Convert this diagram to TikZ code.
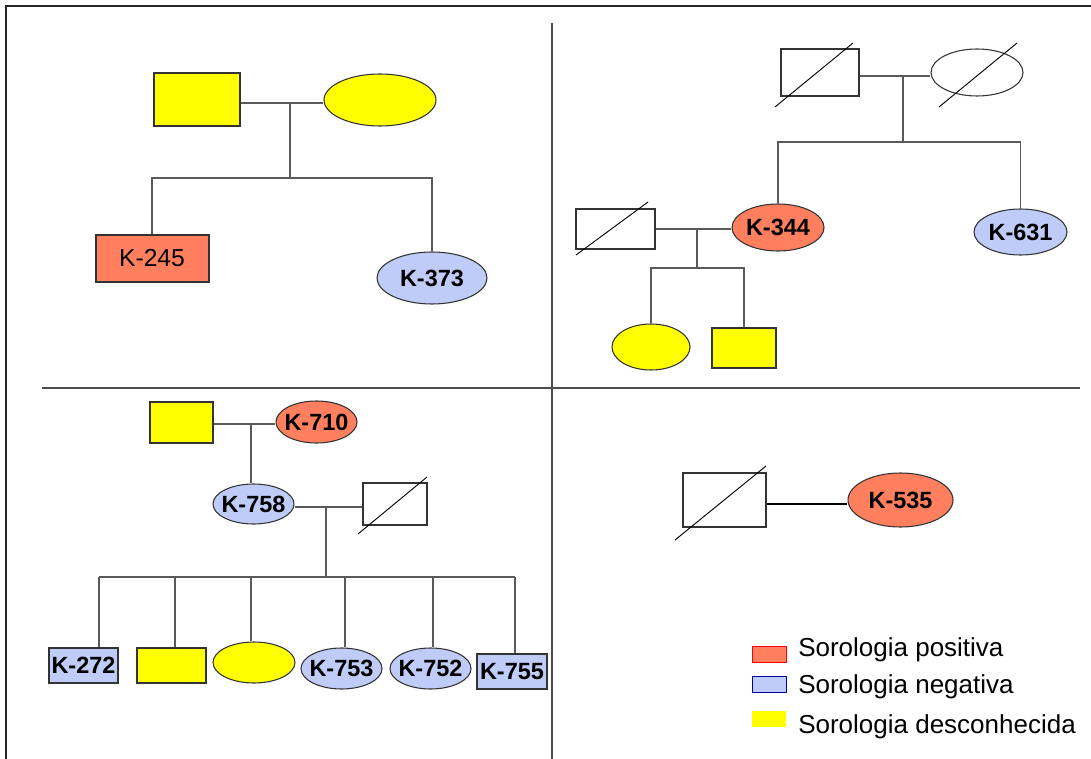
\documentclass[tikz,border=0pt]{standalone}
\usepackage{fontspec}
\setmainfont{Liberation Sans}
\usepackage{xcolor}
\usetikzlibrary{shapes.geometric}
\definecolor{seropos}{HTML}{FF7F5F}
\definecolor{seroneg}{HTML}{C0CCF8}
\definecolor{serounk}{HTML}{FFFF00}
\definecolor{linkgray}{HTML}{5A5A5A}

\begin{document}
\begin{tikzpicture}[
  x=0.75pt, y=-0.75pt,
  sz/.style 2 args={minimum width=#1*0.75pt, minimum height=#2*0.75pt},
  male/.style={
    rectangle,
    draw=black!80,
    line width=0.8pt,
    inner sep=0pt,
    font=\fontsize{17.6}{20}\selectfont\bfseries
  },
  female/.style={
    ellipse,
    draw=black!80,
    line width=0.8pt,
    inner sep=0pt,
    font=\fontsize{17.6}{20}\selectfont\bfseries
  },
  serpos/.style={fill=seropos},
  serneg/.style={fill=seroneg},
  serunk/.style={fill=serounk},
  dead/.style={fill=white},
  link/.style={draw=linkgray, line width=1pt},
  slash/.style={draw=black, line width=0.7pt},
  frame/.style={draw=black!85, line width=1.6pt},
  divider/.style={draw=black!70, line width=1pt},
  legtext/.style={anchor=base west, inner sep=0pt, font=\fontsize{19.5}{22}\selectfont}
]
\useasboundingbox (0,0) rectangle (1091,759);

% frame and panels
\draw[frame] (6,759) -- (6,6) -- (1091,6);
\draw[divider] (552,23) -- (552,759);
\draw[divider] (42,388) -- (1080,388);

% panel 1
\node[male, serunk, sz={86}{53}] (f1) at (197,99.5) {};
\node[female, serunk, sz={112}{52}] (m1) at (380,100) {};
\node[male, serpos, sz={113}{46}, line width=1.5pt, font=\fontsize{18.5}{22}\selectfont] (k245) at (152,258.5) {K-245};
\node[female, serneg, sz={110}{52}] (k373) at (432,278) {\makebox[0pt]{K-373}};
\coordinate (j1) at (290,103);
\coordinate (s1) at (290,178);
\draw[link] (f1.east |- j1) -- (m1.west |- j1);
\draw[link] (j1) -- (s1);
\draw[link] (k245.north) |- (s1) -| (k373.north);

% panel 2
\node[male, dead, sz={78}{47}] (d1) at (820,72.5) {};
\node[female, dead, sz={92}{47}] (d2) at (977,72.5) {};
\node[female, serpos, sz={92}{47}] (k344) at (778,227.5) {\makebox[0pt]{K-344}};
\node[female, serneg, sz={93}{46}] (k631) at (1020.5,232) {\makebox[0pt]{K-631}};
\node[male, dead, sz={79}{40}] (d3) at (615.5,229) {};
\node[female, serunk, sz={78}{46}] (u1) at (651,347) {};
\node[male, serunk, sz={64}{40}] (u2) at (744,348) {};
\draw[slash] ([shift={(-45,34.5)}]d1.center) -- ([shift={(33,-29.5)}]d1.center);
\draw[slash] ([shift={(-38,34.5)}]d2.center) -- ([shift={(40,-29.5)}]d2.center);
\draw[slash] ([shift={(-39.5,26)}]d3.center) -- ([shift={(32.5,-27)}]d3.center);
\coordinate (j2) at (903,76);
\coordinate (s2) at (903,142);
\draw[link] (d1.east |- j2) -- (d2.west |- j2);
\draw[link] (j2) -- (s2);
\draw[link] (k344.north) |- (s2) -| (k631.north);
\coordinate (j3) at (697,229);
\coordinate (s3) at (697,268);
\draw[link] (d3.east |- j3) -- (k344.west |- j3);
\draw[link] (j3) -- (s3);
\draw[link] (u1.north) |- (s3) -| (u2.north);

% panel 3
\node[male, serunk, sz={63}{41}] (u3) at (181.5,422.5) {};
\node[female, serpos, sz={81}{42}] (k710) at (316.5,422) {\makebox[0pt]{K-710}};
\node[female, serneg, sz={81}{40}] (k758) at (253.5,504) {\makebox[0pt]{K-758}};
\node[male, dead, sz={64}{42}] (d4) at (395,504) {};
\draw[slash] ([shift={(-37,30)}]d4.center) -- ([shift={(32,-27)}]d4.center);
\node[male, serneg, sz={69}{35}] (k272) at (83.5,665.5) {K-272};
\node[male, serunk, sz={69}{35}] (u4) at (171.5,665.5) {};
\node[female, serunk, sz={82}{41}] (u5) at (254,662.5) {};
\node[female, serneg, sz={81}{41}] (k753) at (341.5,668.5) {\makebox[0pt]{K-753}};
\node[female, serneg, sz={81}{41}] (k752) at (430.5,668.5) {\makebox[0pt]{K-752}};
\node[male, serneg, sz={70}{35}] (k755) at (512,671.5) {K-755};
\coordinate (j4) at (251,424);
\draw[link] (u3.east |- j4) -- (k710.west |- j4);
\draw[link] (j4) -- (j4 |- k758.north);
\coordinate (j5) at (326,507);
\coordinate (s5) at (326,577);
\draw[link] (k758.east |- j5) -- (d4.west |- j5);
\draw[link] (j5) -- (s5);
\draw[link] (99,577) -- (515,577);
\foreach \kid/\x in {k272/99, u4/175, u5/251, k753/345, k752/433, k755/515}
  \draw[link] (\x,577) -- (\x,577 |- \kid.north);

% panel 4
\node[male, dead, sz={83}{54}] (d5) at (724.5,500) {};
\node[female, serpos, sz={105}{54}] (k535) at (900.5,500) {\makebox[0pt]{K-535}};
\draw[slash] ([shift={(-49.5,40)}]d5.center) -- ([shift={(41.5,-34)}]d5.center);
\coordinate (j6) at (800,504);
\draw[link, draw=black, line width=0.8pt] (d5.east |- j6) -- (k535.west |- j6);

% legend
\node[rectangle, fill=seropos, draw=red, line width=0.7pt, sz={34}{16}] (lpos) at (769,654) {};
\node[rectangle, fill=seroneg, draw=blue!60!black, line width=0.7pt, sz={34}{16}] (lneg) at (769,684) {};
\node[rectangle, fill=serounk, sz={34}{16}] (lunk) at (769,719) {};
\node[legtext] (tpos) at (798,656) {Sorologia positiva};
\node[legtext] (tneg) at (798,693) {Sorologia negativa};
\node[legtext] (tunk) at (798,733) {Sorologia desconhecida};

\end{tikzpicture}
\end{document}
